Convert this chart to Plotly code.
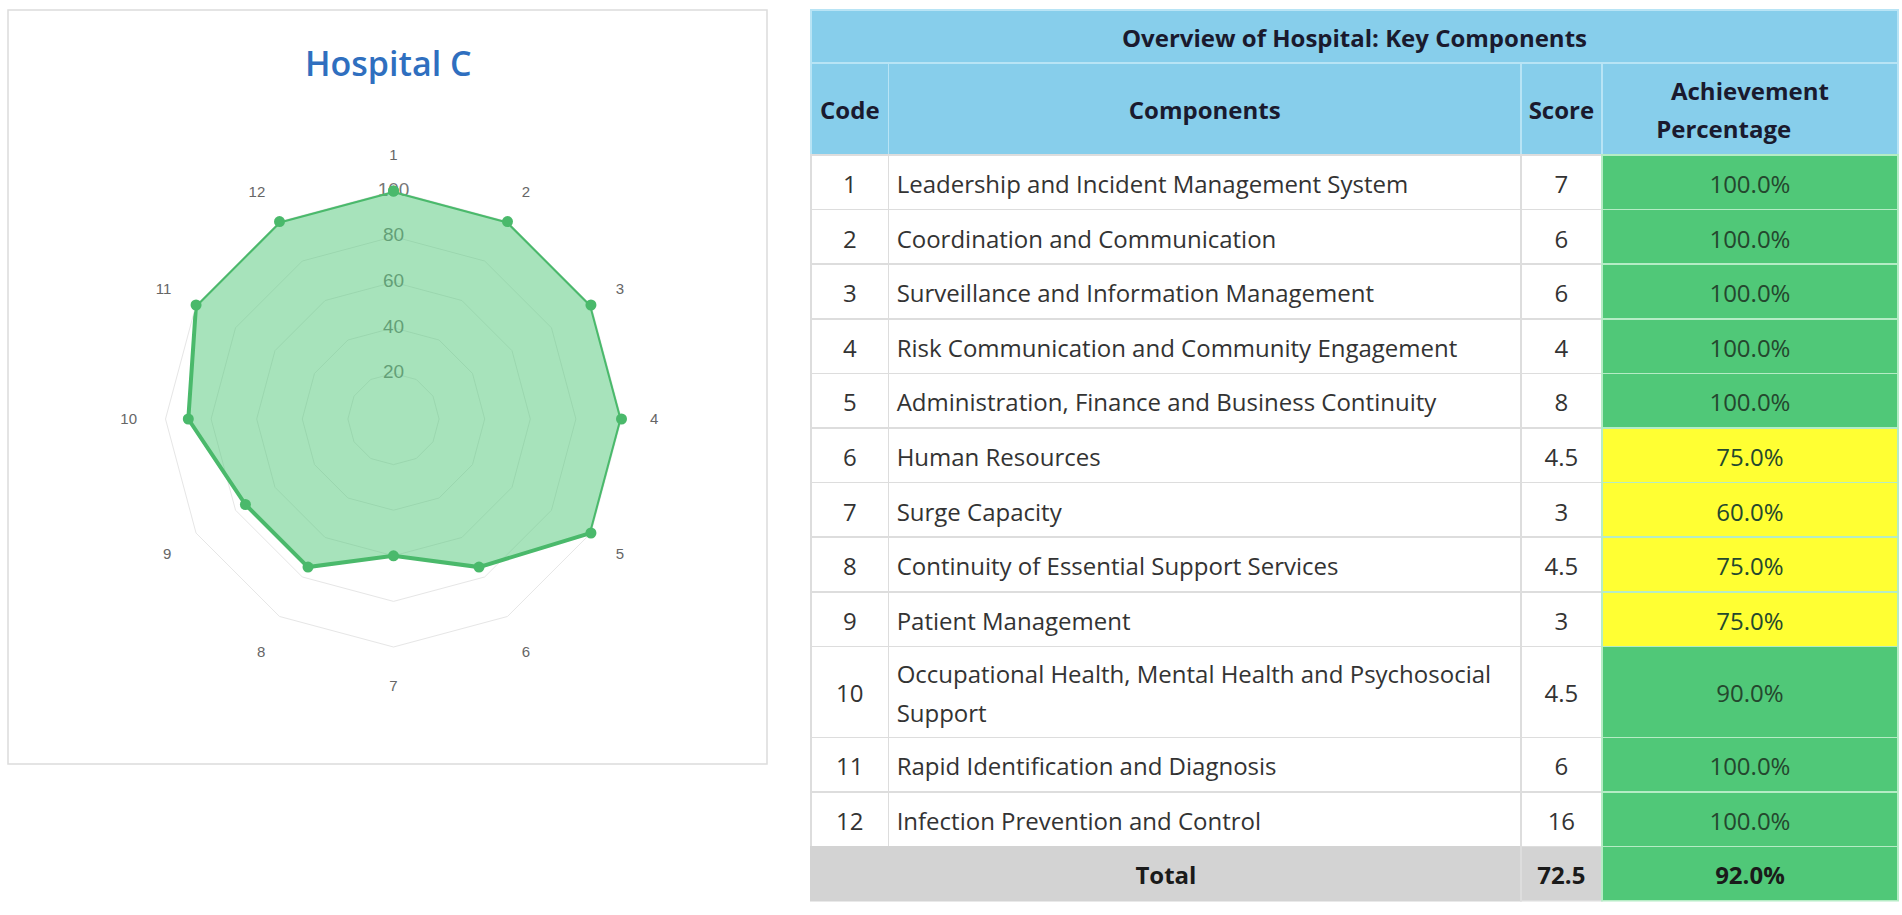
import plotly.graph_objects as go

# =============================================================================
# DATA
# =============================================================================

codes = [str(i) for i in range(1, 13)]
components = [
    "Leadership and Incident Management System",
    "Coordination and Communication",
    "Surveillance and Information Management",
    "Risk Communication and Community Engagement",
    "Administration, Finance and Business Continuity",
    "Human Resources",
    "Surge Capacity",
    "Continuity of Essential Support Services",
    "Patient Management",
    "Occupational Health, Mental Health and Psychosocial<br>Support",
    "Rapid Identification and Diagnosis",
    "Infection Prevention and Control",
]
scores = [7, 6, 6, 4, 8, 4.5, 3, 4.5, 3, 4.5, 6, 16]
achievement = [100, 100, 100, 100, 100, 75, 60, 75, 75, 90, 100, 100]
total_score = 72.5
total_pct = 92.0
radial_ticks = [20, 40, 60, 80, 100]

hospital = "Hospital C"
table_title = "Overview of Hospital: Key Components"
col_headers = ["Code", "Components", "Score", "Achievement<br>Percentage"]

# =============================================================================
# LAYOUT HELPERS (pixel -> paper)
# =============================================================================

W, H = 1902, 915


def px(x):
    return x / W


def py(y):
    return 1 - y / H


FS = 24  # visible text size in the table


def cell(s, bold=False, lift=28, center=True):
    # plotly tables have no vertical centering: text is hung from the top of
    # its glyph box, so a transparent taller glyph on the first line pushes
    # the visible text down. Trailing <br> = "already wrapped" for plotly.
    lines = s.split("<br>")
    out = []
    for i, ln in enumerate(lines):
        if bold:
            ln = f"<b>{ln}</b>"
        v = f"<span style='font-size:{FS}px'>{ln}</span>"
        if i == 0:
            inv = f"<span style='font-size:{lift}px;color:rgba(0,0,0,0)'>|</span>"
            v = inv + v + inv if center else v + inv
        out.append(v)
    return "<br>".join(out) + "<br>"


GREEN = "#50c878"
YELLOW = "#ffff33"
SKY = "#87ceeb"
GREY = "#d3d3d3"
BORDER = "#dddddd"
FONT = "Open Sans"
TX0, TX1 = 811, 1898
LS = 29.5  # font size that gives the 2-line cells their line spacing

fig = go.Figure()

# ---------------------------------------------------------------- radar chart
theta = codes + [codes[0]]
r = achievement + [achievement[0]]

# radial tick labels drawn under the filled area
fig.add_trace(go.Scatterpolar(
    r=radial_ticks, theta=[codes[0]] * len(radial_ticks),
    text=[str(v) for v in radial_ticks], mode="text",
    textfont=dict(family="Liberation Sans", size=19, color="#777777"),
    hoverinfo="skip", showlegend=False,
))
fig.add_trace(go.Scatterpolar(
    r=r, theta=theta, mode="lines+markers", fill="toself",
    fillcolor="rgba(80,200,120,0.5)",
    line=dict(color="#4ab96b", width=4),
    marker=dict(color="#4ab96b", size=11),
    showlegend=False,
))


# ---------------------------------------------------------------- table rows
def add_row(top, h, values, widths, fills, lines, sizes, colors, aligns):
    fig.add_trace(go.Table(
        domain=dict(x=[px(TX0), px(TX1)], y=[py(top + h + 1), py(top)]),
        columnwidth=widths,
        header=dict(values=values, fill_color=fills, height=h,
                    line=dict(color=lines, width=1.5),
                    font=dict(family=FONT, size=sizes, color=colors),
                    align=aligns),
    ))


colw = [77.6, 632, 81, 296]
txt = "#333333"
dark = "#1a1a2e"

# title row
add_row(10, 53, [cell(table_title, True, 27)], [1], SKY, "#b8e4f5", FS,
        dark, "center")

# column header row
add_row(63, 92,
        [cell(c, True, 27 if "<br>" in c else 44.5) for c in col_headers],
        colw, SKY, "#b8e4f5", [FS, FS, FS, LS], dark, "center")

# data rows
y = 155
for code, comp, s, a in zip(codes, components, scores, achievement):
    two = "<br>" in comp
    h = 91 if two else 54.6
    lift = 44.5 if two else 28
    add_row(y, h,
            [cell(code, lift=lift), cell(comp, lift=27 if two else 28, center=False),
             cell(f"{s:g}", lift=lift), cell(f"{a:.1f}%", lift=lift)],
            colw,
            ["white", "white", "white", GREEN if a >= 90 else YELLOW],
            [BORDER, BORDER, BORDER, "#b5ecc5"],
            [FS, LS if two else FS, FS, FS],
            [txt, txt, txt, "#24472e"],
            ["center", "left", "center", "center"])
    y += h

# total row (code + components merged)
add_row(y, 54.6, [cell("Total", True, 27), cell(f"{total_score:g}", True, 27),
                  cell(f"{total_pct:.1f}%", True, 27)],
        [colw[0] + colw[1], colw[2], colw[3]], [GREY, GREY, GREEN],
        [GREY, BORDER, "#b5ecc5"], FS, "#1a1a1a", "center")

# ---------------------------------------------------------------- layout
R0 = 228
fig.update_layout(
    width=W, height=H, margin=dict(l=0, r=0, t=0, b=0),
    paper_bgcolor="white", plot_bgcolor="white",
    polar=dict(
        domain=dict(x=[px(393.5 - R0), px(393.5 + R0)],
                    y=[py(419 + R0), py(419 - R0)]),
        bgcolor="white", gridshape="linear",
        radialaxis=dict(range=[0, 100], tickvals=radial_ticks,
                        showticklabels=False, showline=False, ticks="",
                        gridcolor="#e6e6e6", layer="below traces"),
        angularaxis=dict(direction="clockwise", rotation=90,
                         showgrid=False, showline=True, linecolor="#e6e6e6",
                         ticks="outside", ticklen=25,
                         tickcolor="rgba(0,0,0,0)",
                         tickfont=dict(family="Liberation Sans", size=15,
                                       color="#666666"),
                         layer="below traces"),
    ),
    shapes=[dict(type="rect", xref="paper", yref="paper",
                 x0=px(8), x1=px(767), y0=py(764), y1=py(10),
                 line=dict(color="#dcdcdc", width=1.5), layer="below")],
    annotations=[dict(text=hospital, xref="paper", yref="paper",
                      x=px(388), y=py(63), xanchor="center", yanchor="middle",
                      showarrow=False,
                      font=dict(family=FONT, size=34, color="#2f6fbf",
                                weight=600))],
)

fig.write_html("out.html", config={"displayModeBar": False},
               post_script="document.body.style.margin='0';")
